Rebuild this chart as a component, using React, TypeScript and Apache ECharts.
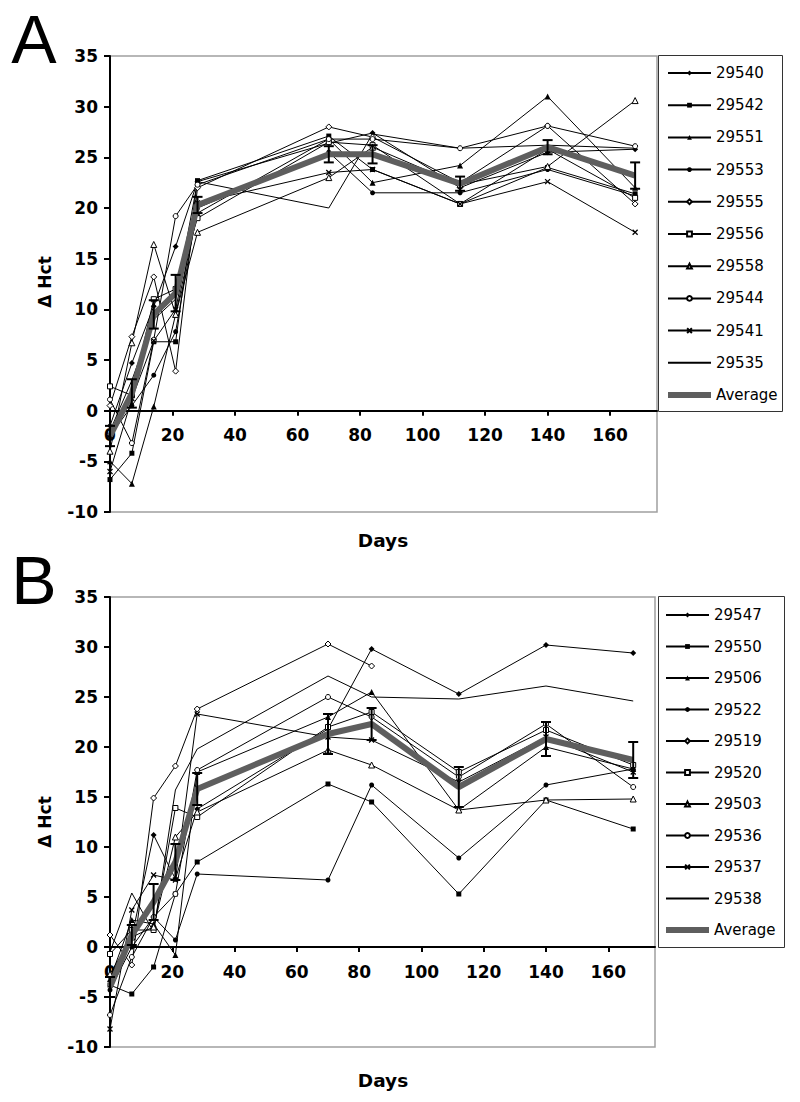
import React, { useEffect, useRef } from "react";
import * as echarts from "echarts";

// ---------- data ----------
const days = [0, 7, 14, 21, 28, 70, 84, 112, 140, 168];
const xTickValues = [0, 20, 40, 60, 80, 100, 120, 140, 160];
const yMin = -10;
const yMax = 35;

// Panel A
const namesA = ["29540", "29542", "29551", "29553", "29555", "29556", "29558", "29544", "29541", "29535"];
const a29540 = [-1.5, 4.7, 10.3, 16.2, 22.6, 26.4, 27.4, 22.0, 25.5, 25.8];
const a29542 = [-6.8, -4.2, 6.8, 6.8, 22.7, 27.1, 23.8, 20.4, 24.0, 21.4];
const a29551 = [-5.0, -7.2, 0.4, 9.5, 19.5, 26.8, 22.5, 24.2, 31.0, 22.0];
const a29553 = [-2.5, 0.5, 3.5, 7.8, 20.0, 25.5, 21.5, 21.5, 23.8, 21.2];
const a29555 = [0.5, 7.3, 13.2, 3.9, 22.0, 28.0, 27.0, 22.5, 28.1, 20.4];
const a29556 = [2.4, 1.5, 11.0, 12.0, 19.0, 26.5, 26.2, 20.4, 25.8, 21.0];
const a29558 = [-4.0, 6.7, 16.4, 9.5, 17.6, 23.0, 26.0, 22.3, 24.1, 30.6];
const a29544 = [1.1, -3.2, 7.0, 19.2, 22.3, 26.8, 26.8, 25.9, 28.1, 26.1];
const a29541 = [-6.0, 1.2, 6.9, 10.0, 20.5, 23.5, 23.8, 20.4, 22.6, 17.6];
const a29535 = [-2.0, 3.0, 9.0, 11.0, 22.6, 20.0, 27.3, 25.9, 26.2, 25.9];
const avgA = [-2.5, 1.7, 9.5, 11.6, 20.3, 25.3, 25.3, 22.4, 26.0, 23.2];
const errA = [1.0, 1.4, 1.4, 1.8, 0.8, 0.8, 0.9, 0.7, 0.7, 1.3];

// Panel B
const namesB = ["29547", "29550", "29506", "29522", "29519", "29520", "29503", "29536", "29537", "29538"];
const b29547 = [-3.0, 1.0, 11.2, 6.8, 13.8, 21.8, 29.8, 25.3, 30.2, 29.4];
const b29550 = [-3.8, -4.7, -2.0, 5.3, 8.5, 16.3, 14.5, 5.3, 14.7, 11.8];
const b29506 = [-3.2, 2.7, 2.3, -0.8, 17.5, 23.0, 25.5, 13.7, 20.0, 17.8];
const b29522 = [-4.3, 0.0, 3.0, 0.7, 7.3, 6.7, 16.2, 8.9, 16.2, 17.8];
const b29519 = [1.2, -1.8, 14.9, 18.1, 23.8, 30.3, 28.1, null, null, null];
const b29520 = [-0.7, 1.7, 1.7, 13.9, 13.0, 22.0, 23.5, 17.5, 21.7, 18.2];
const b29503 = [-2.7, 1.0, 2.0, 11.0, 13.5, 19.7, 18.2, 13.7, 14.7, 14.8];
const b29536 = [-6.8, -1.0, 3.0, 5.3, 17.7, 25.0, 23.0, 17.0, 22.3, 16.0];
const b29537 = [-8.2, 3.7, 7.2, 6.7, 23.3, 21.0, 20.7, 16.5, 21.0, 17.5];
const b29538 = [-0.5, 5.4, 1.5, 15.7, 19.8, 27.1, 25.0, 24.8, 26.1, 24.6];
const avgB = [-4.0, 1.2, 4.5, 8.5, 15.8, 21.3, 22.3, 16.0, 20.8, 18.7];
const errB = [1.0, 1.0, 1.8, 1.8, 1.6, 2.0, 1.6, 2.0, 1.7, 1.8];

const seriesA = [a29540, a29542, a29551, a29553, a29555, a29556, a29558, a29544, a29541, a29535];
const seriesB = [b29547, b29550, b29506, b29522, b29519, b29520, b29503, b29536, b29537, b29538];

// ---------- styles ----------
const FONT = "DejaVu Sans";
const AVG_COLOR = "#5e5e5e";
const markerStyles = [
  { symbol: "diamond", size: 6, open: false },
  { symbol: "rect", size: 5, open: false },
  { symbol: "triangle", size: 6, open: false },
  { symbol: "circle", size: 5, open: false },
  { symbol: "diamond", size: 6, open: true },
  { symbol: "rect", size: 5, open: true },
  { symbol: "triangle", size: 6, open: true },
  { symbol: "circle", size: 5, open: true },
  { symbol: "path://M0,0L10,10M10,0L0,10", size: 5, open: false, cross: true },
  { symbol: "none", size: 0, open: false },
];

function toPairs(vals: (number | null)[]) {
  const out: number[][] = [];
  vals.forEach((v, i) => {
    if (v !== null && v !== undefined) out.push([days[i], v]);
  });
  return out;
}

function buildPanel(names: string[], vals: (number | null)[][], avg: number[], err: number[], idx: number) {
  const series: any[] = [];
  names.forEach((n, i) => {
    const m: any = markerStyles[i];
    series.push({
      type: "line",
      name: n,
      xAxisIndex: idx,
      yAxisIndex: idx,
      data: toPairs(vals[i]),
      symbol: m.symbol,
      symbolSize: m.size,
      showSymbol: m.symbol !== "none",
      lineStyle: { color: "#000", width: 1 },
      itemStyle: m.cross
        ? { color: "#000", borderColor: "#000", borderWidth: 1.3 }
        : m.open
        ? { color: "#fff", borderColor: "#000", borderWidth: 1 }
        : { color: "#000", borderColor: "#000", borderWidth: 0 },
      emphasis: { disabled: true },
      silent: true,
      z: 2,
    });
  });
  series.push({
    type: "line",
    name: "Average",
    xAxisIndex: idx,
    yAxisIndex: idx,
    data: toPairs(avg),
    symbol: "none",
    lineStyle: { color: AVG_COLOR, width: 6 },
    itemStyle: { color: AVG_COLOR },
    emphasis: { disabled: true },
    silent: true,
    z: 3,
  });
  series.push({
    type: "custom",
    name: "err" + idx,
    xAxisIndex: idx,
    yAxisIndex: idx,
    data: avg.map((v, i) => [days[i], v - err[i], v + err[i]]),
    encode: { x: 0, y: [1, 2] },
    z: 4,
    silent: true,
    renderItem: (params: any, api: any) => {
      const x = api.value(0);
      const lo = api.coord([x, api.value(1)]);
      const hi = api.coord([x, api.value(2)]);
      const w = 5;
      const st = { stroke: "#000", lineWidth: 2 };
      return {
        type: "group",
        children: [
          { type: "line", shape: { x1: hi[0], y1: hi[1], x2: lo[0], y2: lo[1] }, style: st },
          { type: "line", shape: { x1: hi[0] - w, y1: hi[1], x2: hi[0] + w, y2: hi[1] }, style: st },
          { type: "line", shape: { x1: lo[0] - w, y1: lo[1], x2: lo[0] + w, y2: lo[1] }, style: st },
        ],
      };
    },
  });
  return series;
}

function xAxisCfg(idx: number, margin: number, gridHeight: number) {
  // place the x axis on the y = 0 line
  const offset = -((0 - yMin) / (yMax - yMin)) * gridHeight;
  return {
    type: "value",
    gridIndex: idx,
    position: "bottom",
    offset: offset,
    min: 0,
    max: 175,
    interval: 20,
    axisLine: { onZero: false, lineStyle: { color: "#000", width: 2 } },
    axisTick: { show: true, length: 5, lineStyle: { color: "#000", width: 2 }, customValues: xTickValues },
    axisLabel: {
      color: "#000",
      fontFamily: FONT,
      fontWeight: "bold",
      fontSize: 17,
      margin: margin,
      customValues: xTickValues,
    },
    splitLine: { show: false },
  };
}

function yAxisCfg(idx: number) {
  return {
    type: "value",
    gridIndex: idx,
    min: yMin,
    max: yMax,
    interval: 5,
    axisLine: { show: true, onZero: false, lineStyle: { color: "#000", width: 2 } },
    axisTick: { show: true, length: 6, lineStyle: { color: "#000", width: 2 } },
    axisLabel: { color: "#000", fontFamily: FONT, fontWeight: "bold", fontSize: 17, margin: 12 },
    splitLine: { show: false },
  };
}

function legendCfg(names: string[], left: number, top: number, gap: number) {
  const data: any[] = names.map((n, i) =>
    markerStyles[i].symbol === "none"
      ? { name: n, itemStyle: { color: "rgba(0,0,0,0)", borderWidth: 0 } }
      : { name: n }
  );
  data.push({ name: "Average", icon: "rect", itemStyle: { color: AVG_COLOR } });
  return {
    data: data,
    orient: "vertical",
    left: left,
    top: top,
    padding: 0,
    itemWidth: 43,
    itemHeight: 6,
    itemGap: gap,
    selectedMode: false,
    textStyle: { fontFamily: FONT, fontSize: 15, color: "#000", lineHeight: 20, padding: [0, 0, 0, 0] },
  };
}

export default function App() {
  const ref = useRef<HTMLDivElement>(null);
  useEffect(() => {
    if (!ref.current) return;
    const chart = echarts.init(ref.current, null, { renderer: "svg" });
    const hA = 456;
    const hB = 450;
    const option: any = {
      animation: false,
      backgroundColor: "#fff",
      textStyle: { fontFamily: FONT },
      grid: [
        { left: 110, top: 56, width: 547, height: hA, show: true, borderColor: "#a0a0a0", borderWidth: 1.5, backgroundColor: "transparent" },
        { left: 110, top: 597, width: 545, height: hB, show: true, borderColor: "#a0a0a0", borderWidth: 1.5, backgroundColor: "transparent" },
      ],
      xAxis: [xAxisCfg(0, 16, hA), xAxisCfg(1, 16, hB)],
      yAxis: [yAxisCfg(0), yAxisCfg(1)],
      legend: [legendCfg(namesA, 667, 63, 12.2), legendCfg(namesB, 665, 605, 11.5)],
      series: [
        ...buildPanel(namesA, seriesA, avgA, errA, 0),
        ...buildPanel(namesB, seriesB, avgB, errB, 1),
      ],
      graphic: [
        { type: "rect", shape: { x: 658.5, y: 55.5, width: 124, height: 356 }, style: { fill: "none", stroke: "#333", lineWidth: 1 }, z: 0 },
        { type: "rect", shape: { x: 658.5, y: 596.5, width: 126, height: 351 }, style: { fill: "none", stroke: "#333", lineWidth: 1 }, z: 0 },
        { type: "text", x: 34, y: 38.5, style: { text: "A", font: "68px 'Liberation Sans'", fill: "#000", align: "center", verticalAlign: "middle" } },
        { type: "text", x: 34, y: 580, style: { text: "B", font: "68px 'Liberation Sans'", fill: "#000", align: "center", verticalAlign: "middle" } },
        { type: "text", x: 45, y: 282, rotation: Math.PI / 2, style: { text: "Δ Hct", font: "bold 17px 'DejaVu Sans'", fill: "#000", align: "center", verticalAlign: "middle" } },
        { type: "text", x: 45, y: 822, rotation: Math.PI / 2, style: { text: "Δ Hct", font: "bold 17px 'DejaVu Sans'", fill: "#000", align: "center", verticalAlign: "middle" } },
        { type: "text", x: 383, y: 540, style: { text: "Days", font: "bold 18.5px 'DejaVu Sans'", fill: "#000", align: "center", verticalAlign: "middle" } },
        { type: "text", x: 383, y: 1080, style: { text: "Days", font: "bold 18.5px 'DejaVu Sans'", fill: "#000", align: "center", verticalAlign: "middle" } },
      ],
    };
    chart.setOption(option);
    return () => chart.dispose();
  }, []);
  return <div ref={ref} style={{ position: "absolute", left: 0, top: 0, width: 800, height: 1102 }} />;
}
